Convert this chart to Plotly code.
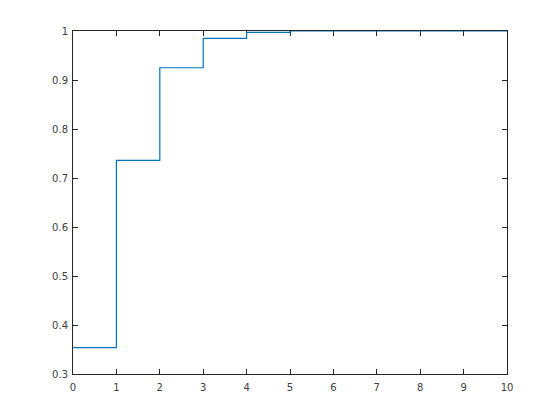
import plotly.graph_objects as go

x_vals = [0, 1, 2, 3, 4, 5, 6, 7, 8, 9, 10]
y_vals = [0.354, 0.736, 0.925, 0.985, 0.997, 1.0, 1.0, 1.0, 1.0, 1.0, 1.0]

x_ticks = [0, 1, 2, 3, 4, 5, 6, 7, 8, 9, 10]
x_tick_labels = ["0", "1", "2", "3", "4", "5", "6", "7", "8", "9", "10"]
y_ticks = [0.3, 0.4, 0.5, 0.6, 0.7, 0.8, 0.9, 1.0]
y_tick_labels = ["0.3", "0.4", "0.5", "0.6", "0.7", "0.8", "0.9", "1"]

fig = go.Figure()
fig.add_trace(go.Scatter(
    x=x_vals, y=y_vals, mode="lines",
    line=dict(shape="hv", color="#0072BD", width=1.2),
    showlegend=False, hoverinfo="skip",
))

axis_common = dict(
    showgrid=False, zeroline=False, showline=True, linecolor="#262626",
    linewidth=1, mirror="allticks", ticks="inside", ticklen=5, tickwidth=1,
    tickcolor="#262626", tickfont=dict(family="DejaVu Sans", size=10, color="#404040"),
    layer="below traces",
)

fig.update_layout(
    width=560, height=420,
    margin=dict(l=65, r=61, t=23, b=54, pad=0),
    paper_bgcolor="white", plot_bgcolor="white",
    xaxis=dict(range=[0, 10], tickvals=x_ticks, ticktext=x_tick_labels,
               ticklabelstandoff=4, **axis_common),
    yaxis=dict(range=[0.3, 1.0], tickvals=y_ticks, ticktext=y_tick_labels,
               ticklabelstandoff=2, **axis_common),
)

fig.write_html("out.html")
